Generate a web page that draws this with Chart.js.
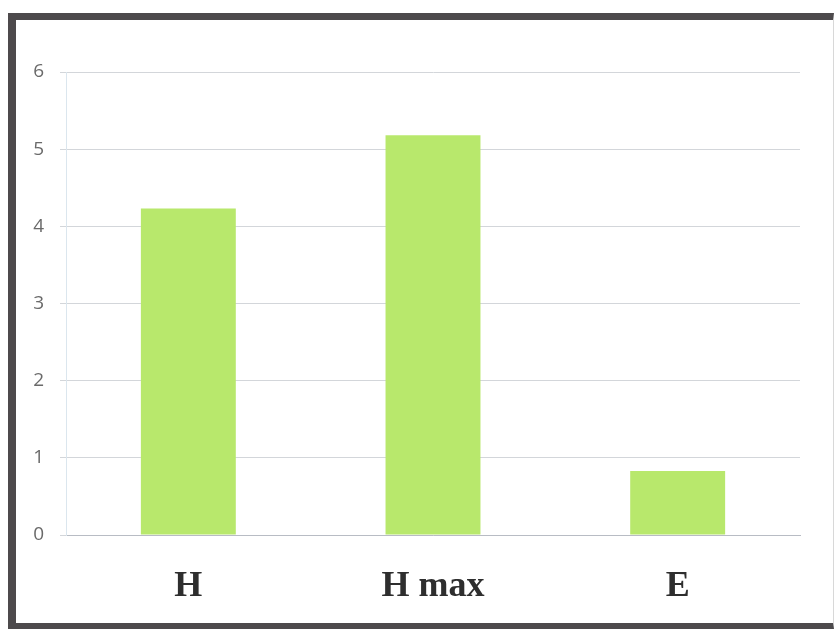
<!DOCTYPE html>
<html>
<head>
<meta charset="utf-8">
<script src="https://cdn.jsdelivr.net/npm/chart.js@4/dist/chart.umd.min.js"></script>
<style>
  html, body { margin: 0; padding: 0; background: #fff; }
  .frame {
    position: absolute; left: 8px; top: 13px;
    width: 817px; height: 603px;
    border-left: 8px solid #4d4a4c;
    border-top: 7px solid #4d4a4c;
    border-bottom: 6px solid #4d4a4c;
    border-right: 1px solid #d8d8d8;
  }
  canvas { display: block; }
</style>
</head>
<body>
<div class="frame"><canvas id="chart" width="817" height="603"></canvas></div>
<script>
// Data
const categories = ['H', 'H max', 'E'];
const values = [4.23, 5.18, 0.83];
const yTicks = [0, 1, 2, 3, 4, 5, 6];

const ctx = document.getElementById('chart').getContext('2d');

new Chart(ctx, {
  type: 'bar',
  data: {
    labels: categories,
    datasets: [{
      data: values,
      backgroundColor: '#b8e86c',
      borderWidth: 0,
      categoryPercentage: 1,
      barPercentage: 0.388
    }]
  },
  options: {
    responsive: false,
    animation: false,
    layout: { padding: { top: 52, right: 33, bottom: 0, left: 0 } },
    plugins: { legend: { display: false }, tooltip: { enabled: false } },
    scales: {
      x: {
        grid: { display: false, drawTicks: false },
        border: { color: '#b8bcc4', width: 1 },
        ticks: {
          color: '#2e2e2e',
          padding: 30,
          font: { family: '"Liberation Serif", serif', size: 36, weight: 'bold' }
        },
        afterFit: scale => { scale.height = 88; }
      },
      y: {
        min: 0,
        max: 6,
        afterBuildTicks: scale => { scale.ticks = yTicks.map(v => ({ value: v })); },
        grid: { color: '#d3d6da', lineWidth: 1, tickLength: 6 },
        border: { color: '#dbe6ee', width: 1 },
        ticks: {
          color: '#6a6a6a',
          padding: 16,
          font: { family: '"Open Sans", sans-serif', size: 19 }
        },
        afterFit: scale => { scale.width = 50; }
      }
    }
  }
});
</script>
</body>
</html>
